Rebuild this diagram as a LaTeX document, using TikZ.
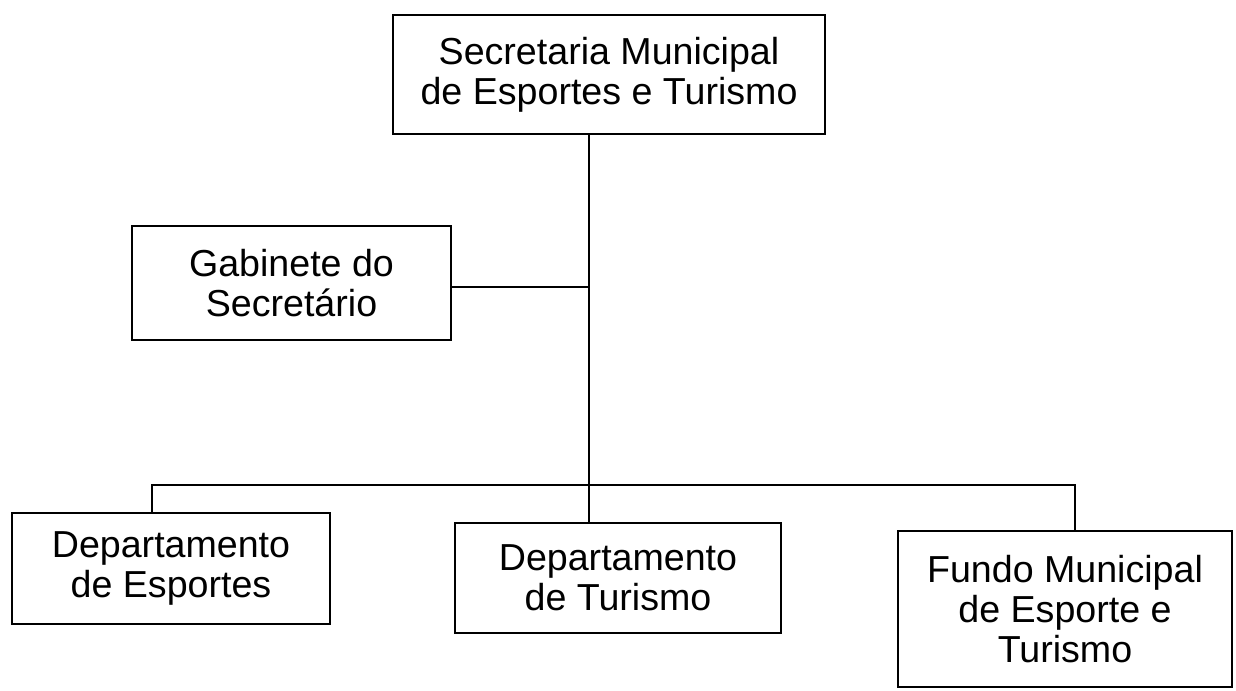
\documentclass[tikz,border=0pt]{standalone}
\usepackage{fontspec}
\setmainfont{Liberation Sans}
\begin{document}
\begin{tikzpicture}[x=0.02cm,y=-0.02cm,
  box/.style={draw,line width=1.2pt,inner sep=0pt,align=center,
    font=\fontsize{21.4}{22.8}\selectfont},
  conn/.style={line width=1.2pt}]
\useasboundingbox (0,0) rectangle (1236,690);
\node[box,minimum width=432*0.02cm,minimum height=119*0.02cm] (top) at (609,74.5)
  {Secretaria Municipal\\de Esportes e Turismo};
\node[box,minimum width=319*0.02cm,minimum height=114*0.02cm] (gab) at (291.5,283)
  {Gabinete do\\Secretário};
\node[box,minimum width=318*0.02cm,minimum height=111*0.02cm] (de) at (171,568.5)
  {Departamento\\de Esportes};
\node[box,minimum width=326*0.02cm,minimum height=110*0.02cm] (dt) at (618,578)
  {Departamento\\de Turismo};
\node[box,minimum width=334*0.02cm,minimum height=156*0.02cm] (fm) at (1065,609)
  {Fundo Municipal\\de Esporte e\\Turismo};
\coordinate (spine) at (589,287);
\coordinate (bus) at (589,485);
\coordinate (busl) at (152,485);
\coordinate (busr) at (1075,485);
\draw[conn] (top.south -| spine) -- (dt.north -| spine);
\draw[conn] (gab.east |- spine) -- (spine);
\draw[conn] (de.north -| busl) -- (busl) -- (busr) -- (fm.north -| busr);
\end{tikzpicture}
\end{document}
